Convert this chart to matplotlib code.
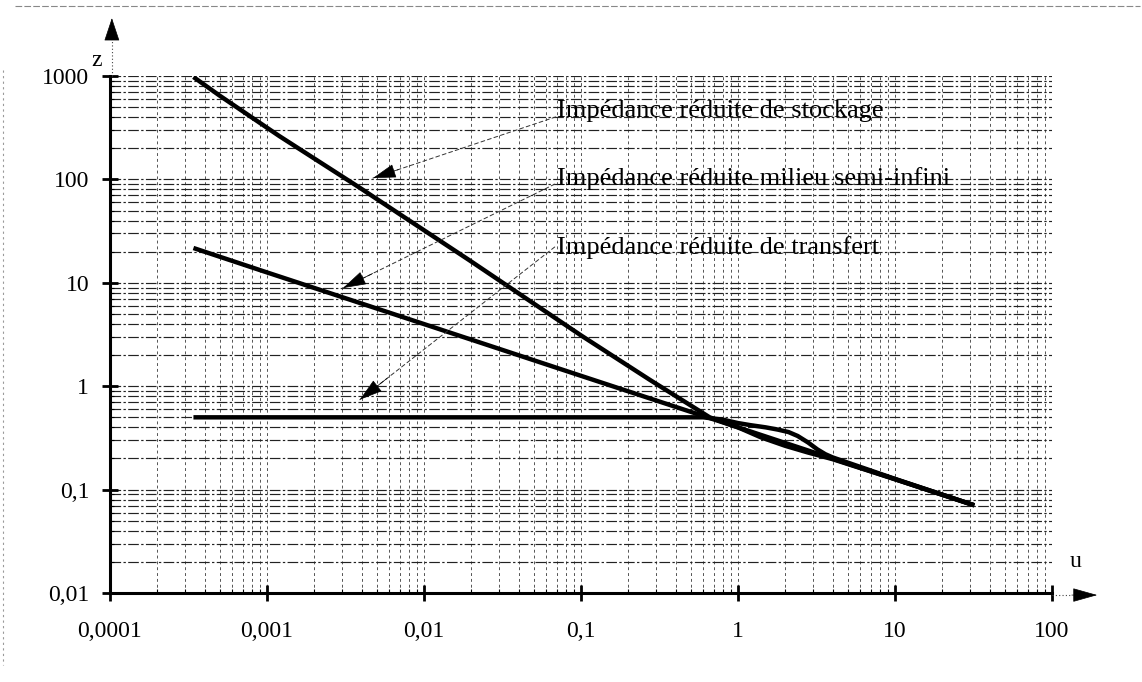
import matplotlib
matplotlib.use("Agg")
import matplotlib.pyplot as plt
import numpy as np
from matplotlib.lines import Line2D

plt.rcParams['font.family'] = ['Liberation Serif', 'DejaVu Serif']

# Reduced impedance curves z(u)
u_stockage = [3.4e-4, 5.0e-4, 1.2e-3, 3.9e-3, 0.0196, 0.1, 0.275, 0.66, 1.0, 1.4, 2.0, 2.8, 4.0, 10.0, 32.0]
z_stockage = [978, 645, 262, 83, 16.4, 3.1, 1.15, 0.50, 0.40, 0.32, 0.265, 0.228, 0.197, 0.126, 0.0705]

u_semi = [3.4e-4, 1e-3, 1e-2, 0.1, 1.0, 10.0, 32.0]
z_semi = [21.7, 12.6, 3.99, 1.26, 0.40, 0.126, 0.0705]

u_transfert = [3.4e-4, 1e-3, 1e-2, 0.1, 0.3, 0.6, 0.8, 1.0, 1.2, 1.5, 1.8, 2.1, 2.4, 2.8, 3.2, 3.6, 4.0, 10.0, 32.0]
z_transfert = [0.5, 0.5, 0.5, 0.5, 0.5, 0.5, 0.475, 0.44, 0.42, 0.40, 0.38, 0.36, 0.33, 0.285, 0.245, 0.22, 0.205, 0.127, 0.0705]

x_ticks = [1e-4, 1e-3, 1e-2, 1e-1, 1, 10, 100]
x_labels = ['0,0001', '0,001', '0,01', '0,1', '1', '10', '100']
y_ticks = [0.01, 0.1, 1, 10, 100, 1000]
y_labels = ['0,01', '0,1', '1', '10', '100', '1000']

labels = ['Impédance réduite de stockage',
          'Impédance réduite milieu semi-infini',
          'Impédance réduite de transfert']
label_pos = [(0.0703, 460), (0.0703, 103), (0.0703, 22.0)]
arrow_tail = [(0.069, 402), (0.068, 90), (0.068, 22.2)]
arrow_tip = [(4.73e-3, 103), (3.05e-3, 8.9), (3.9e-3, 0.74)]

fig = plt.figure(figsize=(11.42, 6.82), dpi=100)
ax = fig.add_axes([110 / 1142, 89 / 682, 942 / 1142, 517 / 682])
ax.set_xscale('log')
ax.set_yscale('log')
ax.set_xlim(1e-4, 100)
ax.set_ylim(0.01, 1000)

# grid
ax.grid(True, which='both', axis='y', color='#222222', lw=0.85, ls=(0, (9, 2, 2, 2)))
ax.grid(True, which='both', axis='x', color='#555555', lw=0.7, ls=(0, (3, 3)))
ax.set_axisbelow(True)

for u, z in [(u_stockage, z_stockage), (u_semi, z_semi), (u_transfert, z_transfert)]:
    ax.plot(u, z, color='black', lw=3.2, solid_capstyle='butt', zorder=3)

for sp in ['top', 'right']:
    ax.spines[sp].set_visible(False)
for sp in ['left', 'bottom']:
    ax.spines[sp].set_linewidth(2.2)

ax.set_xticks(x_ticks)
ax.set_xticklabels(x_labels)
ax.set_yticks(y_ticks)
ax.set_yticklabels(y_labels)
ax.tick_params(which='major', direction='inout', length=12, width=2, labelsize=17, color='black')
ax.tick_params(axis='x', which='major', pad=14)
ax.tick_params(axis='y', which='major', pad=9)
ax.tick_params(which='minor', direction='in', length=3, width=0.8)
ax.yaxis.set_minor_formatter(matplotlib.ticker.NullFormatter())
ax.xaxis.set_minor_formatter(matplotlib.ticker.NullFormatter())

# annotations
for txt, (tx, ty) in zip(labels, label_pos):
    ax.text(tx, ty, txt, fontsize=19, va='center', ha='left', zorder=4)

for (ax0, ay0), (ax1, ay1) in zip(arrow_tail, arrow_tip):
    ax.annotate('', xy=(ax1, ay1), xytext=(ax0, ay0),
                arrowprops=dict(arrowstyle='-', lw=0.7, ls=(0, (4, 3)), color='#333333',
                                shrinkA=0, shrinkB=0), zorder=4)
    f = 0.14
    nx = 10 ** (np.log10(ax1) + f * (np.log10(ax0) - np.log10(ax1)))
    ny = 10 ** (np.log10(ay1) + f * (np.log10(ay0) - np.log10(ay1)))
    ax.annotate('', xy=(ax1, ay1), xytext=(nx, ny),
                arrowprops=dict(arrowstyle='-|>,head_length=1.5,head_width=0.45', lw=0.5,
                                color='black', shrinkA=0, shrinkB=0), zorder=4)

# axis arrows
ax.annotate('', xy=(0.002, 1.112), xytext=(0.002, 1.07), xycoords='axes fraction',
            arrowprops=dict(arrowstyle='-|>,head_length=1.5,head_width=0.5', lw=0.5,
                            color='black', shrinkA=0, shrinkB=0), annotation_clip=False)
ax.plot([0.002, 0.002], [1.0, 1.07], transform=ax.transAxes, color='#444444', lw=0.8,
        ls=(0, (1, 2)), clip_on=False)
ax.annotate('', xy=(1.048, -0.004), xytext=(1.021, -0.004), xycoords='axes fraction',
            arrowprops=dict(arrowstyle='-|>,head_length=1.6,head_width=0.45', lw=0.5,
                            color='black', shrinkA=0, shrinkB=0), annotation_clip=False)
ax.plot([1.0, 1.021], [-0.004, -0.004], transform=ax.transAxes, color='#444444', lw=0.8,
        ls=(0, (1, 2)), clip_on=False)

ax.text(-0.0138, 1.03, 'z', transform=ax.transAxes, fontsize=17, ha='center', va='center')
ax.text(1.0245, 0.06, 'u', transform=ax.transAxes, fontsize=17, ha='center', va='center')

# page frame
fig.add_artist(Line2D([15 / 1142, 1140 / 1142], [1 - 6 / 682, 1 - 6 / 682], color='#888888',
                      lw=0.8, ls=(0, (6, 2))))
fig.add_artist(Line2D([3 / 1142, 3 / 1142], [1 - 70 / 682, 1 - 665 / 682], color='#999999',
                      lw=0.8, ls=(0, (2, 3))))

fig.savefig('out.png', dpi=100)
